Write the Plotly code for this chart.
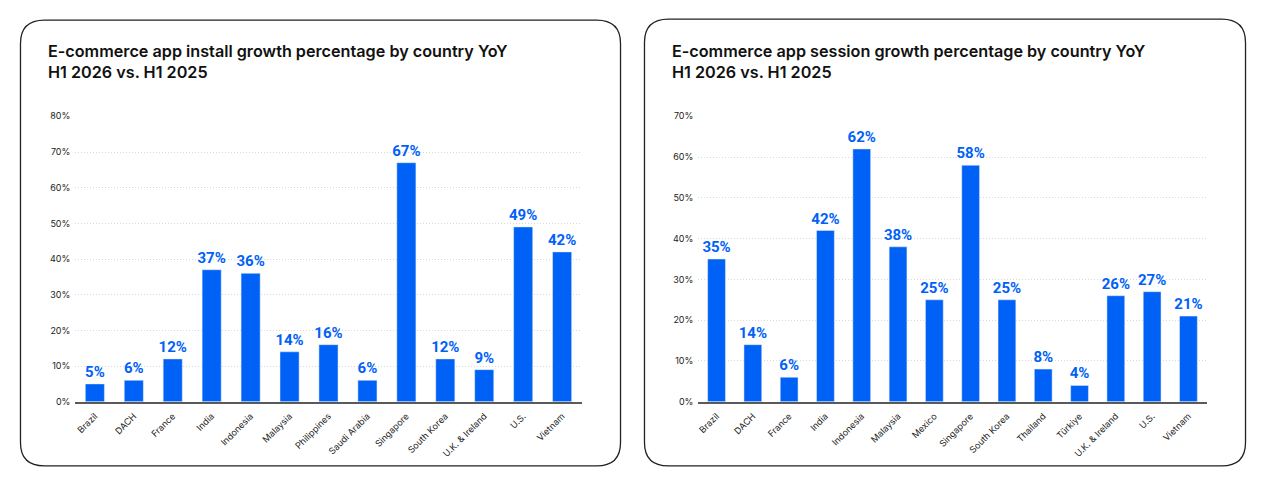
import plotly.graph_objects as go

# Figure sized to fit inside the window (page body adds a margin around it)
W, H = 1250, 465
# mapping of window-pixel positions (as measured on the reference) to figure pixels
X_OFF, Y_OFF, Y_SCALE = 9.5, 13.8, 0.975

install_countries = ["Brazil", "DACH", "France", "India", "Indonesia", "Malaysia", "Philippines",
                     "Saudi Arabia", "Singapore", "South Korea", "U.K. & Ireland", "U.S.", "Vietnam"]
install_growth = [5, 6, 12, 37, 36, 14, 16, 6, 67, 12, 9, 49, 42]

session_countries = ["Brazil", "DACH", "France", "India", "Indonesia", "Malaysia", "Mexico",
                     "Singapore", "South Korea", "Thailand", "Türkiye", "U.K. & Ireland", "U.S.", "Vietnam"]
session_growth = [35, 14, 6, 42, 62, 38, 25, 58, 25, 8, 4, 26, 27, 21]

title_left = "E-commerce app install growth percentage by country YoY<br>H1 2026 vs. H1 2025"
title_right = "E-commerce app session growth percentage by country YoY<br>H1 2026 vs. H1 2025"

BLUE = "#0061F7"
LABEL_FONT = dict(family="Liberation Sans Narrow, Roboto, sans-serif",
                  size=15, color=BLUE, weight="bold")
TICK_FONT = dict(family="Inter, Lato, sans-serif", size=9, color="#222222")


def px(x):  # window x pixel -> paper
    return (x - X_OFF) / W


def py(y):  # window y pixel (from top) -> paper
    return 1 - ((y - Y_OFF) / Y_SCALE) / H


fig = go.Figure()
fig.add_trace(go.Bar(x=install_countries, y=install_growth, marker_color=BLUE,
                     text=[f"{v}%" for v in install_growth], textposition="outside",
                     textfont=LABEL_FONT, cliponaxis=False, xaxis="x", yaxis="y",
                     showlegend=False, hoverinfo="skip"))
fig.add_trace(go.Bar(x=session_countries, y=session_growth, marker_color=BLUE,
                     text=[f"{v}%" for v in session_growth], textposition="outside",
                     textfont=LABEL_FONT, cliponaxis=False, xaxis="x2", yaxis="y2",
                     showlegend=False, hoverinfo="skip"))


def xax(domain, anchor):
    return dict(domain=domain, anchor=anchor, tickangle=-45, tickfont=TICK_FONT,
                showgrid=False, showline=True, linecolor="#5a5a5a", linewidth=1.5,
                ticks="", ticklabelstandoff=4, fixedrange=True)


def yax(domain, anchor, rng, dtick):
    return dict(domain=domain, anchor=anchor, range=rng, dtick=dtick, ticksuffix="%",
                tickfont=TICK_FONT, showgrid=True, gridcolor="#d9d9d9", griddash="1px,2px",
                gridwidth=1, zeroline=False, showline=False, ticks="",
                ticklabelstandoff=4, fixedrange=True)


ydom = [py(401), py(116)]
fig.update_layout(
    width=W, height=H, margin=dict(l=0, r=0, t=0, b=0),
    paper_bgcolor="white", plot_bgcolor="white",
    bargap=0.51,
    xaxis=xax([px(75), px(582)], "y"),
    yaxis=yax(ydom, "x", [0, 80], 10),
    xaxis2=xax([px(699), px(1208)], "y2"),
    yaxis2=yax(ydom, "x2", [0, 70], 10),
    font=dict(family="Inter, sans-serif"),
)
fig.update_traces(constraintext="none")


def rounded(x0, y0, x1, y1, r):
    rx, ry = r / W, r / H
    X0, X1 = px(x0), px(x1)
    Y0, Y1 = py(y0), py(y1)
    return (f"M {X0+rx},{Y0} L {X1-rx},{Y0} Q {X1},{Y0} {X1},{Y0-ry} "
            f"L {X1},{Y1+ry} Q {X1},{Y1} {X1-rx},{Y1} "
            f"L {X0+rx},{Y1} Q {X0},{Y1} {X0},{Y1+ry} "
            f"L {X0},{Y0-ry} Q {X0},{Y0} {X0+rx},{Y0} Z")


for box in [(20, 20, 621, 465), (645, 19, 1247, 465)]:
    fig.add_shape(type="path", path=rounded(*box, 24), xref="paper", yref="paper",
                  line=dict(color="#222222", width=1.3), fillcolor="rgba(0,0,0,0)", layer="below")

for xpx, txt in [(46, title_left), (671, title_right)]:
    fig.add_annotation(x=px(xpx), y=py(39), xref="paper", yref="paper",
                       xanchor="left", yanchor="top", align="left", showarrow=False,
                       text=txt, font=dict(family="Inter, sans-serif", size=16.2,
                                           color="#111111", weight=600))

fig.write_html("out.html")
